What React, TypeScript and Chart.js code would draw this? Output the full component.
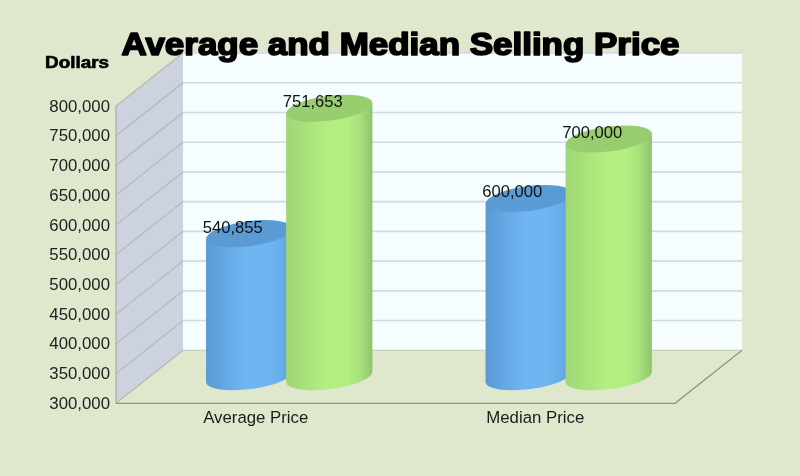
import React, { useEffect, useRef } from "react";
import { Chart, registerables } from "chart.js";

Chart.register(...registerables);

const categories = ["Average Price", "Median Price"];
const averageSeries = [540855, 600000];
const medianSeries = [751653, 700000];
const chartTitle = "Average and Median Selling Price";
const axisTitle = "Dollars";
const FONT = "'Liberation Sans', Arial, sans-serif";

const DEPTH_X = 67;
const DEPTH_Y = 53;
const PHI = (-7.5 * Math.PI) / 180;
const minorB = 12.4;

const palette = [
  { edgeL: "#5a98d2", soft: "#64a8e6", mid: "#6fb5f2", softR: "#69aeea", edgeR: "#5a9ad4", top: "#5b9bd5" },
  { edgeL: "#9fd676", soft: "#a8e27a", mid: "#b2ee80", softR: "#a8e07a", edgeR: "#8fc46c", top: "#98cd6f" },
];

const plugin3d = {
  id: "plugin3d",
  beforeDatasetsDraw(chart: any) {
    const { ctx, chartArea: a, scales } = chart;
    const { left: L, right: R, top: T, bottom: B } = a;
    ctx.save();
    // back wall
    ctx.fillStyle = "#f5fdff";
    ctx.fillRect(L + DEPTH_X, T - DEPTH_Y, R - L, B - T);
    // side wall
    ctx.fillStyle = "#ccd2de";
    ctx.beginPath();
    ctx.moveTo(L, T);
    ctx.lineTo(L + DEPTH_X, T - DEPTH_Y);
    ctx.lineTo(L + DEPTH_X, B - DEPTH_Y);
    ctx.lineTo(L, B);
    ctx.closePath();
    ctx.fill();
    // grid lines
    scales.y.ticks.forEach((t: any) => {
      const py = scales.y.getPixelForValue(t.value);
      if (py < B - 1) {
        ctx.strokeStyle = "#d3d9de";
        ctx.lineWidth = 1.6;
        ctx.beginPath();
        ctx.moveTo(L + DEPTH_X, py - DEPTH_Y);
        ctx.lineTo(R + DEPTH_X, py - DEPTH_Y);
        ctx.stroke();
      }
      ctx.strokeStyle = "#b2b6b6";
      ctx.lineWidth = 1.1;
      ctx.beginPath();
      ctx.moveTo(L, py);
      ctx.lineTo(L + DEPTH_X, py - DEPTH_Y);
      ctx.stroke();
    });
    // floor edges
    ctx.strokeStyle = "#c2c8b4";
    ctx.lineWidth = 1;
    ctx.beginPath();
    ctx.moveTo(L + DEPTH_X, B - DEPTH_Y);
    ctx.lineTo(R + DEPTH_X, B - DEPTH_Y);
    ctx.stroke();
    ctx.strokeStyle = "#8d9384";
    ctx.lineWidth = 1.2;
    ctx.beginPath();
    ctx.moveTo(L, B);
    ctx.lineTo(R, B);
    ctx.lineTo(R + DEPTH_X, B - DEPTH_Y);
    ctx.stroke();
    ctx.strokeStyle = "#a9adab";
    ctx.beginPath();
    ctx.moveTo(L, T);
    ctx.lineTo(L, B);
    ctx.stroke();
    ctx.restore();
  },
  afterDatasetsDraw(chart: any) {
    const { ctx, scales } = chart;
    const labels: any[] = [];
    chart.data.datasets.forEach((ds: any, di: number) => {
      const meta = chart.getDatasetMeta(di);
      const c = palette[di];
      meta.data.forEach((bar: any, i: number) => {
        const cx = bar.x + DEPTH_X / 2;
        const yTop = bar.y - DEPTH_Y / 2;
        const yBase = scales.y.bottom - DEPTH_Y / 2;
        const hw = bar.width / 2;
        const a = hw + 0.5;
        const sin = Math.sin(PHI);
        const cos = Math.cos(PHI);
        const xExt = Math.sqrt(a * a * cos * cos + minorB * minorB * sin * sin);
        const dy = (Math.abs(a * a - minorB * minorB) * Math.abs(sin) * cos) / xExt;

        const g = ctx.createLinearGradient(cx - xExt, 0, cx + xExt, 0);
        g.addColorStop(0, c.edgeL);
        g.addColorStop(0.22, c.soft);
        g.addColorStop(0.45, c.mid);
        g.addColorStop(0.72, c.mid);
        g.addColorStop(0.86, c.softR);
        g.addColorStop(1, c.edgeR);

        ctx.save();
        ctx.fillStyle = g;
        ctx.beginPath();
        ctx.ellipse(cx, yBase, a, minorB, PHI, 0, Math.PI * 2);
        ctx.fill();
        ctx.beginPath();
        ctx.moveTo(cx - xExt, yTop + dy);
        ctx.lineTo(cx + xExt, yTop - dy);
        ctx.lineTo(cx + xExt, yBase - dy);
        ctx.lineTo(cx - xExt, yBase + dy);
        ctx.closePath();
        ctx.fill();
        ctx.fillStyle = c.top;
        ctx.beginPath();
        ctx.ellipse(cx, yTop, a, minorB, PHI, 0, Math.PI * 2);
        ctx.fill();
        ctx.restore();

        labels.push({ v: ds.data[i], x: cx - 16.5, y: yTop - 5.5 });
      });
    });
    ctx.save();
    ctx.font = `16.6px ${FONT}`;
    ctx.fillStyle = "#111";
    ctx.textAlign = "center";
    ctx.textBaseline = "middle";
    labels.forEach((l) => ctx.fillText(l.v.toLocaleString("en-US"), l.x, l.y));
    ctx.restore();
  },
  afterDraw(chart: any) {
    const { ctx } = chart;
    ctx.save();
    ctx.fillStyle = "#000";
    ctx.strokeStyle = "#000";
    ctx.textBaseline = "alphabetic";
    ctx.textAlign = "center";
    ctx.lineJoin = "round";
    // title
    ctx.font = `bold 31px ${FONT}`;
    const w = ctx.measureText(chartTitle).width;
    const sx = 558 / w;
    ctx.save();
    ctx.translate(400.5, 55);
    ctx.scale(sx, 1);
    ctx.lineWidth = 1.7;
    ctx.fillText(chartTitle, 0, 0);
    ctx.strokeText(chartTitle, 0, 0);
    ctx.restore();
    // axis title
    ctx.font = `bold 16px ${FONT}`;
    const w2 = ctx.measureText(axisTitle).width;
    ctx.save();
    ctx.translate(77, 67.5);
    ctx.scale(64 / w2, 1);
    ctx.lineWidth = 0.6;
    ctx.fillText(axisTitle, 0, 0);
    ctx.strokeText(axisTitle, 0, 0);
    ctx.restore();
    ctx.restore();
  },
};

export default function App() {
  const ref = useRef<HTMLCanvasElement>(null);
  useEffect(() => {
    document.body.style.margin = "0";
    document.body.style.background = "#dfe7cc";
    const chart = new Chart(ref.current!, {
      type: "bar",
      data: {
        labels: categories,
        datasets: [
          {
            label: "Series A",
            data: averageSeries,
            backgroundColor: "transparent",
            categoryPercentage: 0.5725,
            barPercentage: 1.075,
          },
          {
            label: "Series B",
            data: medianSeries,
            backgroundColor: "transparent",
            categoryPercentage: 0.5725,
            barPercentage: 1.075,
          },
        ],
      },
      options: {
        animation: false,
        responsive: false,
        layout: { padding: { top: 106, right: 125, left: 0, bottom: 0 } },
        plugins: { legend: { display: false }, tooltip: { enabled: false } },
        scales: {
          x: {
            grid: { display: false, drawTicks: false },
            border: { display: false },
            ticks: { color: "#1c1c1c", font: { family: FONT, size: 16.8 }, padding: 5 },
            afterFit: (s: any) => {
              s.height = 72.7;
            },
          },
          y: {
            min: 300000,
            max: 800000,
            grid: { display: false, drawTicks: false },
            border: { display: false },
            ticks: {
              stepSize: 50000,
              color: "#222",
              font: { family: FONT, size: 16.8 },
              padding: 6,
              labelOffset: 1,
              callback: (v: any) => Number(v).toLocaleString("en-US"),
            },
            afterFit: (s: any) => {
              s.width = 116;
            },
          },
        },
      },
      plugins: [plugin3d],
    });
    return () => chart.destroy();
  }, []);
  return <canvas ref={ref} width={800} height={476} style={{ display: "block", filter: "blur(0.4px)" }} />;
}
